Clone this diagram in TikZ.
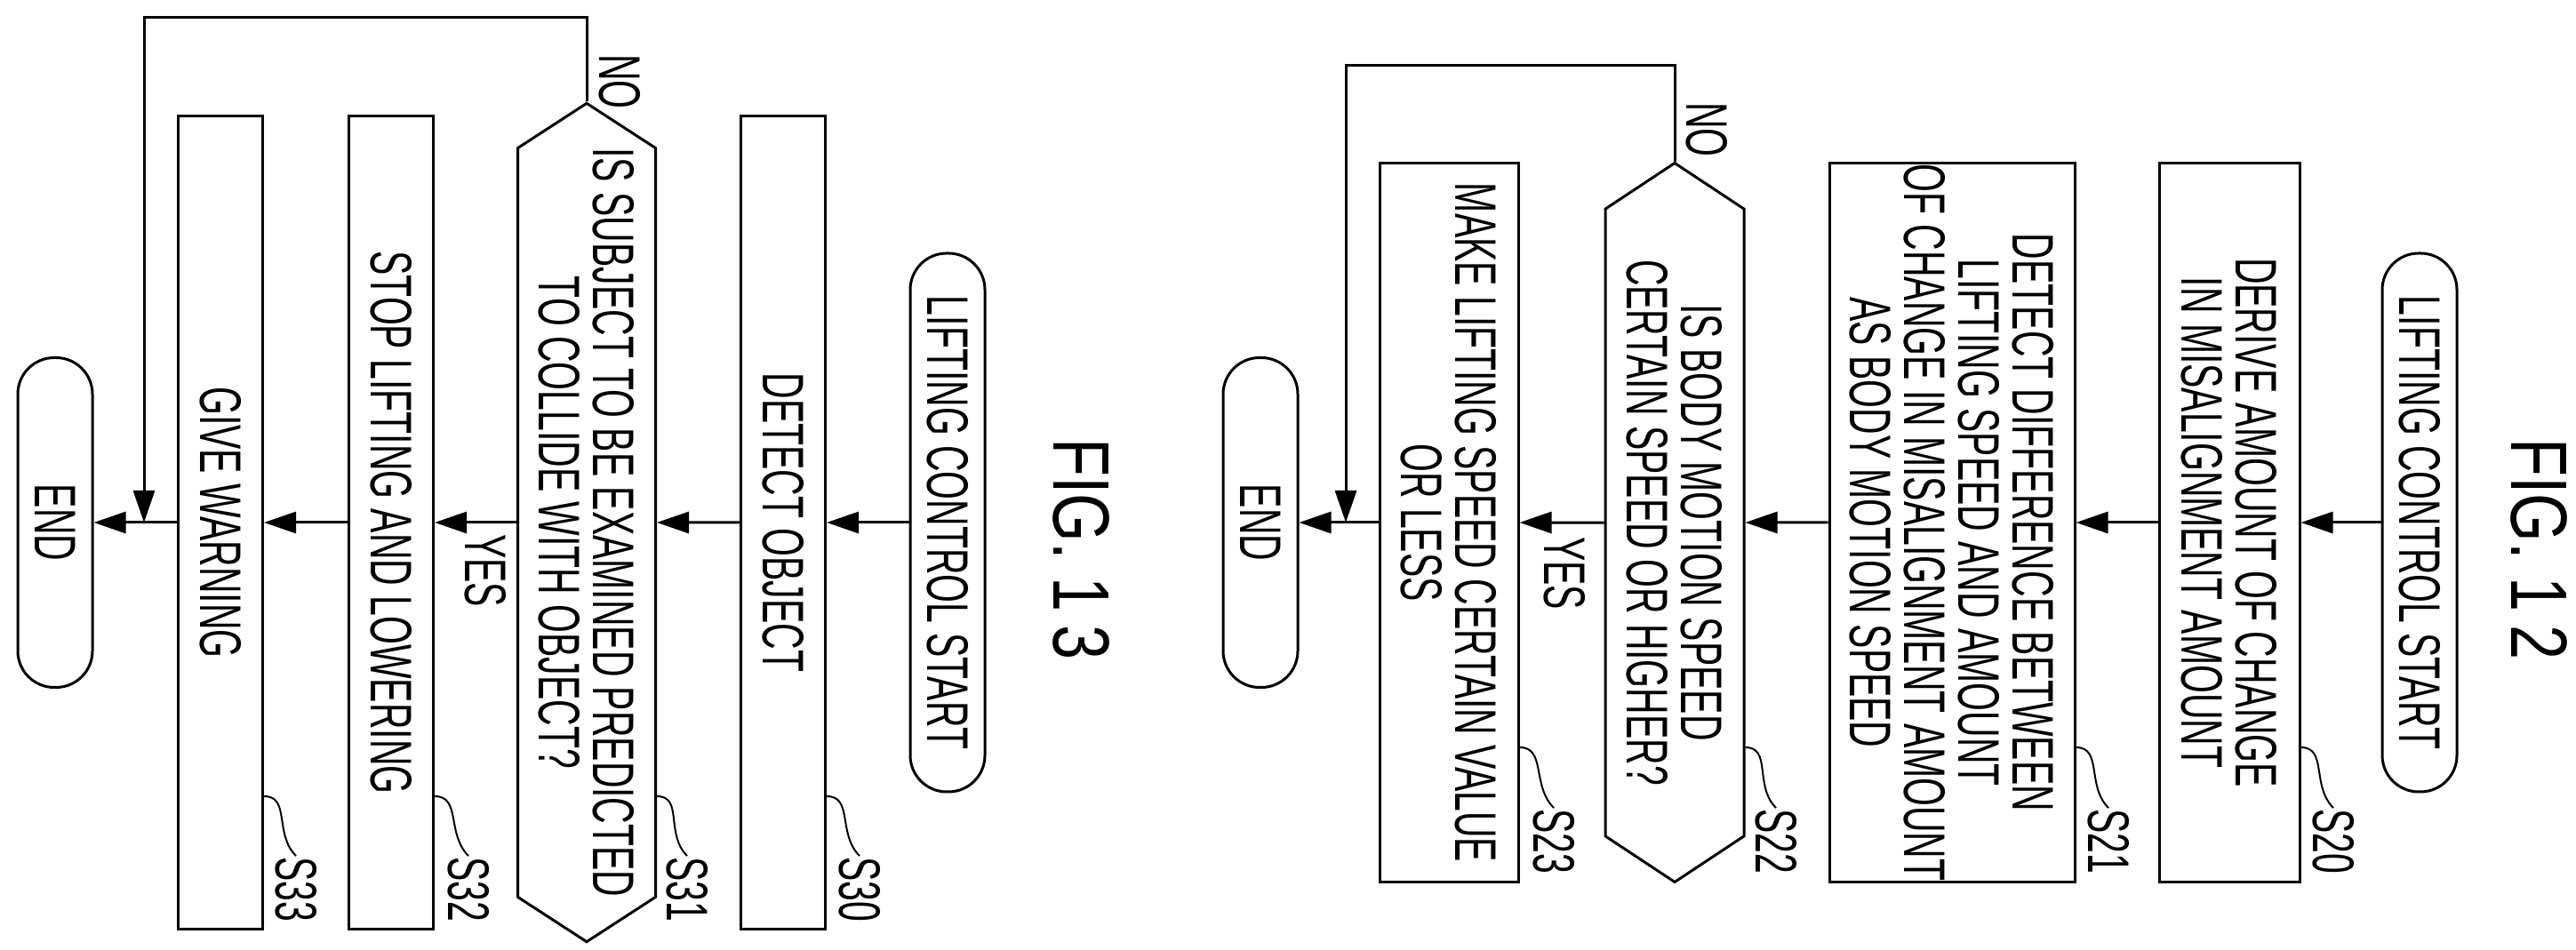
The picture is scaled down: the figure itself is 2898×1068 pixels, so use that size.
\documentclass[tikz,border=0pt]{standalone}
\usepackage{fontspec}
\newfontfamily\narrowfont[FakeStretch=0.62]{Liberation Sans}
\newfontfamily\figfont[FakeStretch=0.78]{Liberation Sans}
\newcommand\flowfont{\narrowfont\fontsize{66}{61}\selectfont}
\usetikzlibrary{positioning,arrows.meta,shapes.symbols}
\tikzset{
  term/.style={draw, rounded corners=41pt, rotate=-90, minimum height=84pt, inner sep=0pt, font=\flowfont},
  proc/.style={draw, rotate=-90, inner sep=0pt, align=center, font=\flowfont},
  decide/.style={draw, shape=signal, signal to=west and east, rotate=-90, inner sep=0pt, align=center, font=\flowfont},
  lbl/.style={rotate=-90, inner sep=0pt, font=\flowfont},
  flow/.style={-{Triangle[length=36pt,width=24pt]}},
}
\begin{document}
\begin{tikzpicture}[x=1pt, y=1pt, line width=3pt]
  \fill[white] (0,0) rectangle (2898,1068);
  \useasboundingbox (0,0) rectangle (2898,1068);

  % FIG. 13
  \node[lbl, font=\figfont\fontsize{90}{90}\selectfont] (fig13) at (1216,450) {FIG. 1\,3};
  \node[term, minimum width=606pt] (start13) at (1066,480) {LIFTING CONTROL START};
  \node[proc, minimum width=915pt, minimum height=95pt] (detect) at (881,480) {DETECT OBJECT};
  \node[decide, minimum width=915pt, minimum height=155pt, signal pointer angle=114] (collide) at (660,480)
    {IS SUBJECT TO BE EXAMINED PREDICTED\\TO COLLIDE WITH OBJECT?};
  \node[proc, minimum width=915pt, minimum height=95pt] (stop) at (440,480) {STOP LIFTING AND LOWERING};
  \node[proc, minimum width=915pt, minimum height=95pt] (warn) at (248,480) {GIVE WARNING};
  \node[term, minimum width=371pt] (end13) at (62,480) {END};
  \coordinate (join13) at (162,480);

  \draw[flow] (start13) -- (detect);
  \draw[flow] (detect) -- (collide);
  \draw[flow] (collide) -- (stop);
  \draw[flow] (stop) -- (warn);
  \draw[flow] (warn) -- (end13);
  \draw[flow] (collide.west) |- (162,1048) -- (join13);
  \node[lbl] (no13) at (697,976) {NO};
  \node[lbl] (yes13) at (546,426) {YES};

  % step numbers
  \node[lbl] (s30) at (967,67) {S30};
  \node[lbl] (s31) at (773,67) {S31};
  \node[lbl] (s32) at (527,67) {S32};
  \node[lbl] (s33) at (333,67) {S33};
  \foreach \b/\s in {detect/s30,collide/s31,stop/s32,warn/s33}
    \draw[line width=2pt] (\b.north east |- 0,172) .. controls +(30,0) and +(-25,25) .. (\s.west);

  % FIG. 12
  \node[lbl, font=\figfont\fontsize{90}{90}\selectfont] (fig12) at (2856,450) {FIG. 1\,2};
  \node[term, minimum width=606pt] (start12) at (2722,480) {LIFTING CONTROL START};
  \node[proc, minimum width=809pt, minimum height=158pt] (derive) at (2508,480)
    {DERIVE AMOUNT OF CHANGE\\IN MISALIGNMENT AMOUNT};
  \node[proc, minimum width=809pt, minimum height=276pt] (differ) at (2196,480)
    {DETECT DIFFERENCE BETWEEN\\LIFTING SPEED AND AMOUNT\\OF CHANGE IN MISALIGNMENT AMOUNT\\AS BODY MOTION SPEED};
  \node[decide, minimum width=809pt, minimum height=156pt, signal pointer angle=113] (motion) at (1884,480)
    {IS BODY MOTION SPEED\\CERTAIN SPEED OR HIGHER?};
  \node[proc, minimum width=809pt, minimum height=156pt] (limit) at (1630,480)
    {MAKE LIFTING SPEED CERTAIN VALUE\\OR LESS};
  \node[term, minimum width=371pt] (end12) at (1418,480) {END};
  \coordinate (join12) at (1514,480);

  \draw[flow] (start12) -- (derive);
  \draw[flow] (derive) -- (differ);
  \draw[flow] (differ) -- (motion);
  \draw[flow] (motion) -- (limit);
  \draw[flow] (limit) -- (end12);
  \draw[flow] (motion.west) |- (1514,994) -- (join12);
  \node[lbl] (no12) at (1920,922) {NO};
  \node[lbl] (yes12) at (1760,423) {YES};

  % step numbers
  \node[lbl] (s20) at (2625,121) {S20};
  \node[lbl] (s21) at (2372,121) {S21};
  \node[lbl] (s22) at (1998,121) {S22};
  \node[lbl] (s23) at (1748,121) {S23};
  \foreach \b/\s in {derive/s20,differ/s21,motion/s22,limit/s23}
    \draw[line width=2pt] (\b.north east |- 0,227) .. controls +(30,0) and +(-25,25) .. (\s.west);
\end{tikzpicture}
\end{document}
